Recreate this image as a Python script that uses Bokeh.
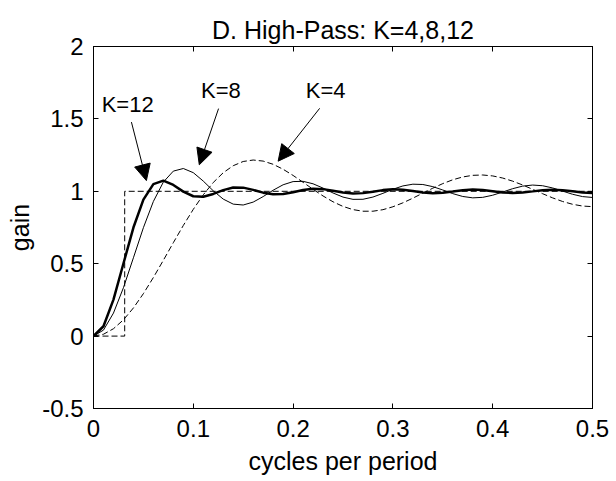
from bokeh.plotting import figure
from bokeh.models import Arrow, NormalHead, LinearAxis, FixedTicker, Range1d, ColumnDataSource
from bokeh.core.properties import value
from bokeh.embed import file_html
from bokeh.resources import INLINE

# ---- data ----
freq = [0.00, 0.01, 0.02, 0.03, 0.04, 0.05, 0.06, 0.07, 0.08, 0.09,
        0.10, 0.11, 0.12, 0.13, 0.14, 0.15, 0.16, 0.17, 0.18, 0.19,
        0.20, 0.21, 0.22, 0.23, 0.24, 0.25, 0.26, 0.27, 0.28, 0.29,
        0.30, 0.31, 0.32, 0.33, 0.34, 0.35, 0.36, 0.37, 0.38, 0.39,
        0.40, 0.41, 0.42, 0.43, 0.44, 0.45, 0.46, 0.47, 0.48, 0.49, 0.50]

gain_k4 = [0.0000, 0.0129, 0.0509, 0.1123, 0.1944, 0.2933, 0.4047, 0.5237, 0.6452, 0.7641,
           0.8756, 0.9757, 1.0607, 1.1283, 1.1768, 1.2059, 1.2160, 1.2087, 1.1865, 1.1522,
           1.1095, 1.0621, 1.0137, 0.9678, 0.9276, 0.8956, 0.8735, 0.8624, 0.8625, 0.8731,
           0.8931, 0.9203, 0.9526, 0.9873, 1.0216, 1.0532, 1.0796, 1.0990, 1.1103, 1.1126,
           1.1062, 1.0916, 1.0701, 1.0435, 1.0139, 0.9835, 0.9547, 0.9297, 0.9104, 0.8982, 0.8940]

gain_k8 = [0.0000, 0.0414, 0.1589, 0.3343, 0.5409, 0.7488, 0.9300, 1.0638, 1.1394, 1.1574,
           1.1286, 1.0705, 1.0035, 0.9461, 0.9114, 0.9053, 0.9254, 0.9635, 1.0074, 1.0451,
           1.0671, 1.0688, 1.0519, 1.0221, 0.9884, 0.9600, 0.9444, 0.9448, 0.9603, 0.9858,
           1.0140, 1.0371, 1.0491, 1.0470, 1.0321, 1.0089, 0.9840, 0.9642, 0.9548, 0.9582,
           0.9730, 0.9951, 1.0181, 1.0357, 1.0431, 1.0385, 1.0232, 1.0016, 0.9796, 0.9635, 0.9575]

gain_k12 = [0.0000, 0.0680, 0.2523, 0.5012, 0.7497, 0.9421, 1.0491, 1.0737, 1.0439, 0.9976,
            0.9658, 0.9621, 0.9817, 1.0083, 1.0262, 1.0252, 1.0097, 0.9906, 0.9792, 0.9812,
            0.9940, 1.0090, 1.0175, 1.0150, 1.0040, 0.9914, 0.9847, 0.9874, 0.9972, 1.0082,
            1.0138, 1.0110, 1.0019, 0.9921, 0.9873, 0.9901, 0.9987, 1.0077, 1.0120, 1.0091,
            1.0009, 0.9924, 0.9885, 0.9915, 0.9995, 1.0077, 1.0112, 1.0081, 1.0002, 0.9922, 0.9889]

ideal_x = [0.0, 0.03125, 0.03125, 0.5]
ideal_y = [0.0, 0.0, 1.0, 1.0]

label_text = ["K=12", "K=8", "K=4"]
label_x = [0.0082, 0.1078, 0.2127]
label_y = [1.602, 1.697, 1.697]

arrow_x0 = [0.038, 0.1253, 0.2266]
arrow_y0 = [1.478, 1.571, 1.573]
arrow_x1 = [0.053, 0.106, 0.185]
arrow_y1 = [1.074, 1.183, 1.208]

x_ticks = [0, 0.1, 0.2, 0.3, 0.4, 0.5]
x_tick_labels = ["0", "0.1", "0.2", "0.3", "0.4", "0.5"]
y_ticks = [-0.5, 0, 0.5, 1, 1.5, 2]
y_tick_labels = ["-0.5", "0", "0.5", "1", "1.5", "2"]

FONT = "Liberation Sans"

p = figure(width=616, height=481, x_range=Range1d(0, 0.5), y_range=Range1d(-0.5, 2),
           output_backend="svg", toolbar_location=None,
           min_border_left=93, min_border_right=24, min_border_top=46, min_border_bottom=73,
           title="D. High-Pass: K=4,8,12")
p.title.text_font = FONT
p.title.text_font_size = "25px"
p.title.text_font_style = "normal"
p.title.text_color = "black"
p.title.align = "center"
p.title.standoff = 5

p.grid.visible = False
p.outline_line_color = "black"
p.outline_line_width = 1
p.background_fill_color = "white"
p.border_fill_color = "white"

for ax, ticks, labels in ((p.xaxis[0], x_ticks, x_tick_labels), (p.yaxis[0], y_ticks, y_tick_labels)):
    ax.ticker = FixedTicker(ticks=ticks)
    ax.major_label_overrides = {t: l for t, l in zip(ticks, labels)}
    ax.major_tick_in = 5
    ax.major_tick_out = 0
    ax.minor_tick_line_color = None
    ax.axis_line_color = "black"
    ax.major_tick_line_color = "black"
    ax.major_label_text_font = FONT
    ax.major_label_text_font_size = "24px"
    ax.major_label_text_color = "black"
    ax.axis_label_text_font = FONT
    ax.axis_label_text_font_size = "25px"
    ax.axis_label_text_font_style = "normal"
    ax.axis_label_text_color = "black"

p.xaxis.axis_label = "cycles per period"
p.yaxis.axis_label = "gain"
p.xaxis.major_label_standoff = 11
p.xaxis.axis_label_standoff = 7
p.yaxis.major_label_standoff = 10
p.yaxis.axis_label_standoff = 5

for loc, ticks, gap in (("above", x_ticks, 8), ("right", y_ticks, 0)):
    ax = LinearAxis(ticker=FixedTicker(ticks=ticks))
    ax.major_label_text_font_size = "0px"
    ax.major_label_text_color = None
    ax.major_label_standoff = gap
    ax.major_tick_in = 5
    ax.major_tick_out = 0
    ax.minor_tick_line_color = None
    ax.axis_line_color = "black"
    ax.major_tick_line_color = "black"
    p.add_layout(ax, loc)

p.line(ideal_x, ideal_y, line_color="black", line_width=1, line_dash="6 3")
p.line(freq, gain_k4, line_color="black", line_width=1, line_dash="6 3")
p.line(freq, gain_k8, line_color="black", line_width=1)
p.line(freq, gain_k12, line_color="black", line_width=2.5)

lab_src = ColumnDataSource(dict(x=label_x, y=label_y, t=label_text))
p.text(x="x", y="y", text="t", source=lab_src, text_font=value(FONT), text_font_size="22px",
       text_align="left", text_baseline="alphabetic", text_color="black")

arr_src = ColumnDataSource(dict(x0=arrow_x0, y0=arrow_y0, x1=arrow_x1, y1=arrow_y1))
p.add_layout(Arrow(end=NormalHead(size=16, fill_color="black", line_color="black", line_width=1),
                   x_start="x0", y_start="y0", x_end="x1", y_end="y1", source=arr_src,
                   line_color="black", line_width=1))

open("out.html", "w").write(file_html(p, INLINE))
